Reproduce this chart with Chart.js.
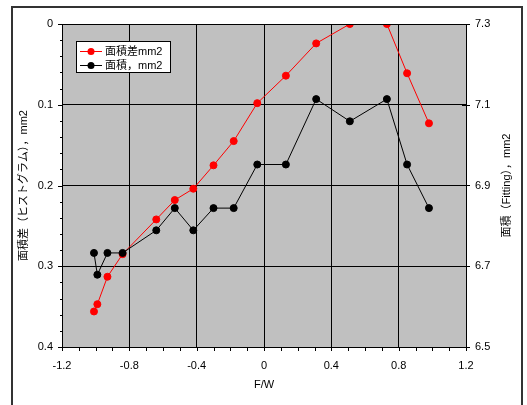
<!DOCTYPE html>
<html>
<head>
<meta charset="utf-8">
<script src="https://cdn.jsdelivr.net/npm/chart.js@4/dist/chart.umd.min.js"></script>
<style>
  html, body { margin: 0; padding: 0; background: #fff; }
  #wrap { width: 527px; height: 405px; }
</style>
</head>
<body>
<div id="wrap"><canvas id="chart" width="527" height="405"></canvas></div>
<script>
// F/W positions (shared by both series)
const fw = [-1.01, -0.99, -0.93, -0.84, -0.64, -0.53, -0.42, -0.30, -0.18, -0.04,
            0.13, 0.31, 0.51, 0.73, 0.85, 0.98];
// 面積差 (histogram), left axis, reversed
const areaDiff = [0.356, 0.347, 0.313, 0.285, 0.242, 0.218, 0.204, 0.175, 0.145, 0.098,
                  0.064, 0.024, 0.0, 0.0, 0.061, 0.123];
// 面積 (fitting), right axis
const areaFit = [6.733, 6.679, 6.733, 6.733, 6.789, 6.844, 6.789, 6.844, 6.844, 6.952,
                 6.952, 7.114, 7.059, 7.114, 6.952, 6.844];

const xTicks = [-1.2, -0.8, -0.4, 0, 0.4, 0.8, 1.2];
const leftTicks = [0, 0.1, 0.2, 0.3, 0.4];
const rightTicks = [6.5, 6.7, 6.9, 7.1, 7.3];

const labelDiff = '面積差mm2';
const labelFit = '面積，mm2';
const leftTitle = '面積差（ヒストグラム），mm2';
const rightTitle = '面積（Fitting），mm2';
const xTitle = 'F/W';

const FONT = "'Liberation Sans', Arial, 'Noto Sans CJK JP', sans-serif";

function pts(ys) {
  return fw.map((x, i) => ({ x: x, y: ys[i] }));
}
function fixTicks(arr) {
  return function(scale) { scale.ticks = arr.map(v => ({ value: v })); };
}
function fmt(v) { return String(Number(v.toFixed(2))); }

// gray plot area, frame, extra borders, minor ticks, right title, legend
const decor = {
  id: 'decor',
  beforeDraw(chart) {
    const { ctx, chartArea: a } = chart;
    ctx.save();
    ctx.fillStyle = '#fff';
    ctx.fillRect(0, 0, chart.width, chart.height);
    ctx.fillStyle = '#C0C0C0';
    ctx.fillRect(a.left, a.top, a.right - a.left, a.bottom - a.top);
    ctx.restore();
  },
  afterDraw(chart) {
    const { ctx, chartArea: a, scales } = chart;
    ctx.save();
    // outer frame
    ctx.strokeStyle = '#333';
    ctx.lineWidth = 2;
    ctx.beginPath();
    ctx.moveTo(12, 410); ctx.lineTo(12, 7); ctx.lineTo(522, 7); ctx.lineTo(522, 410);
    ctx.stroke();

    // top border of plot area
    ctx.strokeStyle = '#000';
    ctx.lineWidth = 1;
    ctx.beginPath();
    ctx.moveTo(a.left, a.top + 0.5); ctx.lineTo(a.right, a.top + 0.5);
    ctx.stroke();

    // tick marks
    ctx.beginPath();
    for (let i = 0; i <= 20; i++) {
      const y = Math.round(scales.y.getPixelForValue(i * 0.02)) + 0.5;
      const len = i % 5 === 0 ? 4 : 2;
      ctx.moveTo(a.left - len, y); ctx.lineTo(a.left, y);
    }
    for (let i = -12; i <= 12; i++) {
      const x = Math.round(scales.x.getPixelForValue(i / 10)) + 0.5;
      ctx.moveTo(x, a.bottom); ctx.lineTo(x, a.bottom + 4);
    }
    rightTicks.forEach(v => {
      const y = Math.round(scales.y2.getPixelForValue(v)) + 0.5;
      ctx.moveTo(a.right - 4, y); ctx.lineTo(a.right + 4, y);
    });
    ctx.stroke();

    // right axis title (reads bottom to top)
    ctx.fillStyle = '#000';
    ctx.font = '11px ' + FONT;
    ctx.textAlign = 'center';
    ctx.textBaseline = 'middle';
    ctx.translate(507, (a.top + a.bottom) / 2);
    ctx.rotate(-Math.PI / 2);
    ctx.fillText(rightTitle, 0, 0);
    ctx.restore();

    // legend box
    ctx.save();
    const bx = 76.5, by = 41.5, bw = 94, bh = 31;
    ctx.fillStyle = '#fff';
    ctx.fillRect(bx, by, bw, bh);
    ctx.strokeStyle = '#000';
    ctx.lineWidth = 1;
    ctx.strokeRect(bx, by, bw, bh);
    ctx.font = '11px ' + FONT;
    ctx.textAlign = 'left';
    ctx.textBaseline = 'middle';
    chart.data.datasets.forEach((ds, i) => {
      const ry = 51 + i * 14;
      ctx.strokeStyle = ds.borderColor;
      ctx.beginPath();
      ctx.moveTo(80, ry + 0.5); ctx.lineTo(102, ry + 0.5);
      ctx.stroke();
      ctx.fillStyle = ds.pointBackgroundColor;
      ctx.beginPath();
      ctx.arc(91, ry + 0.5, 3.5, 0, Math.PI * 2);
      ctx.fill();
      ctx.fillStyle = '#000';
      ctx.fillText(ds.label, 105, ry + 1);
    });
    ctx.restore();
  }
};

new Chart(document.getElementById('chart'), {
  type: 'scatter',
  data: {
    datasets: [
      {
        label: labelDiff,
        data: pts(areaDiff),
        yAxisID: 'y',
        showLine: true,
        borderColor: '#FF0000',
        backgroundColor: '#FF0000',
        pointBackgroundColor: '#FF0000',
        pointBorderColor: '#FF0000',
        borderWidth: 1,
        pointRadius: 3.5,
        order: 1
      },
      {
        label: labelFit,
        data: pts(areaFit),
        yAxisID: 'y2',
        showLine: true,
        borderColor: '#000000',
        backgroundColor: '#000000',
        pointBackgroundColor: '#000000',
        pointBorderColor: '#000000',
        borderWidth: 1,
        pointRadius: 3.5,
        order: 0
      }
    ]
  },
  options: {
    responsive: false,
    animation: false,
    layout: { padding: { top: 24, left: 0, right: 0, bottom: 0 } },
    plugins: {
      legend: { display: false },
      tooltip: { enabled: false }
    },
    scales: {
      x: {
        type: 'linear',
        position: 'bottom',
        min: -1.2,
        max: 1.2,
        afterBuildTicks: fixTicks(xTicks),
        afterFit: s => { s.height = 58; },
        grid: { color: '#000', lineWidth: 1, drawTicks: false },
        border: { display: true, color: '#000', width: 1 },
        ticks: {
          color: '#000',
          padding: 12,
          maxRotation: 0,
          font: { family: FONT, size: 11 },
          callback: v => fmt(v)
        },
        title: {
          display: true,
          text: xTitle,
          color: '#000',
          font: { family: FONT, size: 11 },
          padding: { top: 0, bottom: 13 }
        }
      },
      y: {
        type: 'linear',
        position: 'left',
        reverse: true,
        min: 0,
        max: 0.4,
        afterBuildTicks: fixTicks(leftTicks),
        afterFit: s => { s.width = 62; },
        grid: { color: '#000', lineWidth: 1, drawTicks: false },
        border: { display: true, color: '#000', width: 1 },
        ticks: {
          color: '#000',
          padding: 9,
          font: { family: FONT, size: 11 },
          callback: v => fmt(v)
        },
        title: {
          display: true,
          text: leftTitle,
          color: '#000',
          font: { family: FONT, size: 11 },
          padding: { top: 17, bottom: 0 }
        }
      },
      y2: {
        type: 'linear',
        position: 'right',
        min: 6.5,
        max: 7.3,
        afterBuildTicks: fixTicks(rightTicks),
        afterFit: s => { s.width = 61; },
        grid: { display: false, drawTicks: false },
        border: { display: true, color: '#000', width: 1 },
        ticks: {
          color: '#000',
          padding: 9,
          font: { family: FONT, size: 11 },
          callback: v => fmt(v)
        }
      }
    }
  },
  plugins: [decor]
});
</script>
</body>
</html>
